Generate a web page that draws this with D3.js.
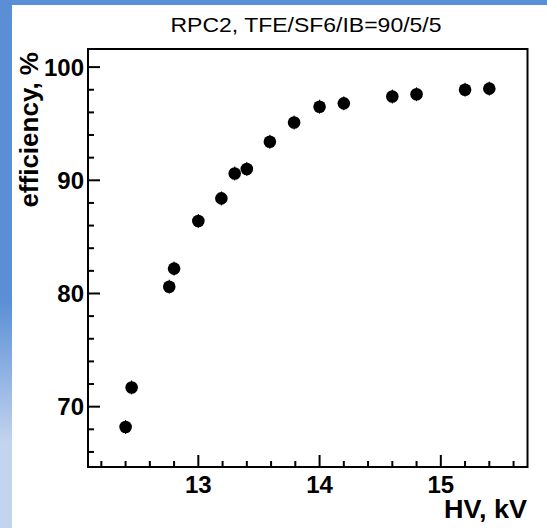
<!DOCTYPE html>
<html>
<head>
<meta charset="utf-8">
<script src="https://cdn.jsdelivr.net/npm/d3@7"></script>
<style>
  body { margin: 0; background: #fff; }
  svg { display: block; }
  text { font-family: "Liberation Sans", Arial, Helvetica, sans-serif; }
</style>
</head>
<body>
<svg id="chart" width="547" height="528"></svg>
<script>
// HV in kV and measured efficiency in %
var hv = [12.40, 12.45, 12.76, 12.80, 13.00, 13.19, 13.30, 13.40,
          13.59, 13.79, 14.00, 14.20, 14.60, 14.80, 15.20, 15.40];
var efficiency = [68.2, 71.7, 80.6, 82.2, 86.4, 88.4, 90.6, 91.0,
                  93.4, 95.1, 96.5, 96.8, 97.4, 97.6, 98.0, 98.1];
var xTicks = [13, 14, 15];
var yTicks = [70, 80, 90, 100];

var svg = d3.select("#chart");

// blue slide background strips
var grad = svg.append("defs").append("linearGradient")
    .attr("id", "side").attr("x1", 0).attr("y1", 0).attr("x2", 0).attr("y2", 1);
grad.append("stop").attr("offset", "0.57").attr("stop-color", "#5a8fd5");
grad.append("stop").attr("offset", "0.84").attr("stop-color", "#c3d4ef");
grad.append("stop").attr("offset", "1").attr("stop-color", "#c3d4ef");
svg.append("rect").attr("x", 0).attr("y", 0).attr("width", 12).attr("height", 528)
    .attr("fill", "url(#side)");
svg.append("rect").attr("x", 0).attr("y", 0).attr("width", 547).attr("height", 5)
    .attr("fill", "#5a8fd5");

// frame edges (pixels)
var fLeft = 88, fRight = 527.5, fTop = 49, fBottom = 467;

var x = d3.scaleLinear().domain([12.09, 15.715]).range([fLeft, fRight]);
var y = d3.scaleLinear().domain([64.67, 101.6]).range([fBottom, fTop]);

// y axis ticks (major every 10, minor every 2)
var yMinor = d3.range(66, 101, 2);
svg.append("g").selectAll("line").data(yMinor).join("line")
    .attr("x1", fLeft).attr("x2", function(d) { return fLeft + (d % 10 === 0 ? 12 : 6); })
    .attr("y1", function(d) { return y(d); }).attr("y2", function(d) { return y(d); })
    .attr("stroke", "#000").attr("stroke-width", 2);
svg.append("g").selectAll("text").data(yTicks).join("text")
    .attr("x", fLeft - 4).attr("y", function(d) { return y(d); })
    .attr("dy", "0.36em").attr("text-anchor", "end")
    .style("font-size", "24px").style("font-weight", "bold")
    .text(function(d) { return d; });

// x axis ticks (major every 1, minor every 0.2)
var xMinor = d3.range(12.2, 15.65, 0.2).map(function(d) { return Math.round(d * 10) / 10; });
svg.append("g").selectAll("line").data(xMinor).join("line")
    .attr("x1", function(d) { return x(d); }).attr("x2", function(d) { return x(d); })
    .attr("y1", fBottom)
    .attr("y2", function(d) { return fBottom - (Math.abs(d - Math.round(d)) < 1e-6 ? 12 : 6); })
    .attr("stroke", "#000").attr("stroke-width", 2);
svg.append("g").selectAll("text").data(xTicks).join("text")
    .attr("x", function(d) { return x(d); }).attr("y", 493)
    .attr("text-anchor", "middle")
    .style("font-size", "24px").style("font-weight", "bold")
    .text(function(d) { return d; });

// frame
svg.append("rect")
    .attr("x", fLeft).attr("y", fTop)
    .attr("width", fRight - fLeft).attr("height", fBottom - fTop)
    .attr("fill", "none").attr("stroke", "#000").attr("stroke-width", 2);

// data points with tiny error bars
var pts = svg.append("g");
hv.forEach(function(v, i) {
    pts.append("line")
        .attr("x1", x(v)).attr("x2", x(v))
        .attr("y1", y(efficiency[i]) - 7).attr("y2", y(efficiency[i]) + 7)
        .attr("stroke", "#000").attr("stroke-width", 1);
    pts.append("circle")
        .attr("cx", x(v)).attr("cy", y(efficiency[i]))
        .attr("r", 6.3).attr("fill", "#000");
});

// titles
svg.append("text")
    .attr("x", 306).attr("y", 32).attr("text-anchor", "middle")
    .style("font-size", "21px")
    .attr("textLength", 271).attr("lengthAdjust", "spacingAndGlyphs")
    .text("RPC2, TFE/SF6/IB=90/5/5");
svg.append("text")
    .attr("x", 527).attr("y", 518).attr("text-anchor", "end")
    .style("font-size", "26px").style("font-weight", "bold")
    .attr("textLength", 83).attr("lengthAdjust", "spacingAndGlyphs")
    .text("HV, kV");
svg.append("text")
    .attr("transform", "translate(38,52) rotate(-90)")
    .attr("text-anchor", "end")
    .style("font-size", "26px").style("font-weight", "bold")
    .text("efficiency, %");
</script>
</body>
</html>
